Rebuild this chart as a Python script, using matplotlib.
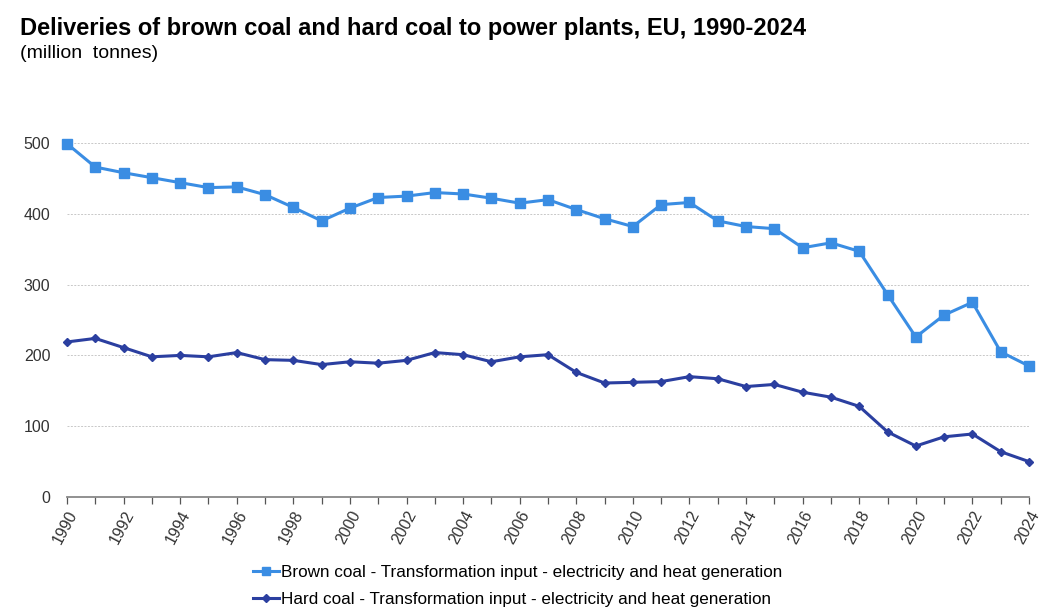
import matplotlib
matplotlib.use("Agg")
import matplotlib.pyplot as plt

plt.rcParams['font.family'] = ['Liberation Sans', 'DejaVu Sans']

# Dados (milhões de toneladas)
anos = list(range(1990, 2025))
brown_coal = [499, 466, 458, 451, 444, 437, 438, 427, 409, 390,
              408, 423, 425, 430, 428, 422, 415, 420, 406, 393,
              382, 413, 416, 390, 382, 379, 352, 359, 347, 286,
              226, 257, 275, 205, 185]
hard_coal = [219, 224, 211, 198, 200, 198, 204, 194, 193, 187,
             191, 189, 193, 204, 201, 191, 198, 201, 176, 161,
             162, 163, 170, 167, 156, 159, 148, 141, 128, 92,
             72, 85, 89, 64, 50]
yticks = [0, 100, 200, 300, 400, 500]

titulo = "Deliveries of brown coal and hard coal to power plants, EU, 1990-2024"
subtitulo = "(million  tonnes)"
rotulo_brown = "Brown coal - Transformation input - electricity and heat generation"
rotulo_hard = "Hard coal - Transformation input - electricity and heat generation"

cor_brown = "#3A8DE3"
cor_hard = "#2B3FA0"

fig = plt.figure(figsize=(10.6, 6.13), dpi=100)
ax = fig.add_axes([67 / 1060, 1 - 497 / 613, (1029 - 67) / 1060, (497 - 143) / 613])

ax.plot(anos, brown_coal, color=cor_brown, lw=2.2, marker="s", ms=6.5,
        label=rotulo_brown, clip_on=False, zorder=3)
ax.plot(anos, hard_coal, color=cor_hard, lw=2.2, marker="D", ms=4.5,
        label=rotulo_hard, clip_on=False, zorder=3)

ax.set_xlim(1990, 2024)
ax.set_ylim(0, 500)
ax.set_yticks(yticks)
ax.set_xticks(anos)
ax.set_xticklabels([str(a) if a % 2 == 0 else "" for a in anos],
                   rotation=62, ha="right", rotation_mode="anchor", fontsize=11.5)
ax.tick_params(axis="y", length=0, labelsize=11.5, colors="#333333", pad=12)
ax.tick_params(axis="x", length=5, width=0.9, color="#555555", labelcolor="#333333", pad=3)

ax.grid(axis="y", color="#c8c8c8", linestyle=(0, (2, 1.5)), lw=0.7)
ax.set_axisbelow(True)
for s in ["top", "right", "left"]:
    ax.spines[s].set_visible(False)
ax.spines["bottom"].set_color("#888888")
ax.spines["bottom"].set_linewidth(1.3)
ax.spines["bottom"].set_zorder(4)

fig.text(20 / 1060, 1 - 28 / 613, titulo, fontsize=17, fontweight="bold", va="center")
fig.text(20 / 1060, 1 - 53 / 613, subtitulo, fontsize=14, va="center")

fig.legend(loc="center", bbox_to_anchor=(518 / 1060, 1 - 586 / 613), ncol=1,
           frameon=False, fontsize=12.3, handlelength=1.5, handletextpad=0.15,
           labelspacing=0.65, markerscale=0.85)

plt.savefig("out.png", dpi=100)
